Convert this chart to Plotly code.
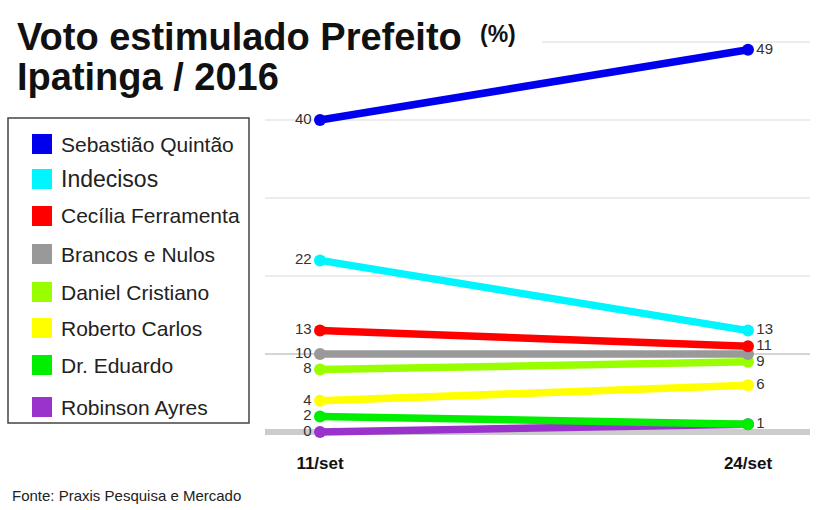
import plotly.graph_objects as go

# ---- data ----
dates = ["11/set", "24/set"]
names = ["Sebastião Quintão", "Indecisos", "Cecília Ferramenta", "Brancos e Nulos",
         "Daniel Cristiano", "Roberto Carlos", "Dr. Eduardo", "Robinson Ayres"]
colors = ["#0000ee", "#00f5ff", "#ff0000", "#999999",
          "#99ff00", "#ffff00", "#00ee00", "#9933cc"]
v_11set = [40, 22, 13, 10, 8, 4, 2, 0]
v_24set = [49, 13, 11, 10, 9, 6, 1, 1]
show_end_label = [True, True, True, False, True, True, True, False]
grid_vals = [10, 20, 30, 40, 50]

# ---- geometry helpers (pixels -> paper) ----
W, H = 819, 510
L, R, T, B = 265, 810, 30, 445
def px(x):
    return (x - L) / (R - L)
def py(y):
    return (B - y) / (B - T)

FONT = "Liberation Sans, Arial, sans-serif"
fig = go.Figure()

xs = [0, 1]
for i in reversed(range(len(names))):
    fig.add_trace(go.Scatter(
        x=xs, y=[v_11set[i], v_24set[i]], mode="lines+markers",
        name=names[i], line=dict(color=colors[i], width=7.5),
        marker=dict(color=colors[i], size=12), showlegend=False,
        cliponaxis=False, hoverinfo="skip"))
    fig.add_trace(go.Scatter(
        x=[xs[0]], y=[v_11set[i]], mode="text", text=[str(v_11set[i]) + "  "],
        textposition="middle left", textfont=dict(size=15, color="#333", family=FONT),
        showlegend=False, cliponaxis=False, hoverinfo="skip"))
    fig.add_trace(go.Scatter(
        x=[xs[1]], y=[v_24set[i]], mode="text",
        text=["  " + str(v_24set[i]) if show_end_label[i] else ""],
        textposition="middle right", textfont=dict(size=15, color="#333", family=FONT),
        showlegend=False, cliponaxis=False, hoverinfo="skip"))

shapes = []
for g in grid_vals:
    x0 = px(542) if g == 50 else 0
    col = "#aaaaaa" if g == 10 else "#d9d9d9"
    shapes.append(dict(type="line", xref="paper", yref="y", x0=x0, x1=1, y0=g, y1=g,
                       line=dict(color=col, width=1), layer="below"))
shapes.append(dict(type="line", xref="paper", yref="y", x0=0, x1=1, y0=0, y1=0,
                   line=dict(color="#cccccc", width=6), layer="below"))

annotations = []
# legend box
shapes.append(dict(type="rect", xref="paper", yref="paper",
                   x0=px(8), x1=px(249), y0=py(423), y1=py(118),
                   line=dict(color="#444", width=1.5), fillcolor="rgba(0,0,0,0)"))
leg_y = [144, 179, 216, 254, 292, 328, 365, 407]
leg_size = [21, 23, 21, 21, 21, 21, 21, 21]
for i, n in enumerate(names):
    shapes.append(dict(type="rect", xref="paper", yref="paper",
                       x0=px(32), x1=px(52), y0=py(leg_y[i] + 10), y1=py(leg_y[i] - 10),
                       line=dict(width=0), fillcolor=colors[i]))
    annotations.append(dict(xref="paper", yref="paper", x=px(59), y=py(leg_y[i]),
                            xanchor="left", yanchor="middle", showarrow=False, text=n,
                            font=dict(size=leg_size[i], color="#222", family=FONT)))

# title
annotations.append(dict(xref="paper", yref="paper", x=px(15), y=py(37), xanchor="left",
                        yanchor="middle", showarrow=False, text="<b>Voto estimulado Prefeito</b>",
                        font=dict(size=38, color="#111", family=FONT)))
annotations.append(dict(xref="paper", yref="paper", x=px(15), y=py(77), xanchor="left",
                        yanchor="middle", showarrow=False, text="<b>Ipatinga / 2016</b>",
                        font=dict(size=38, color="#111", family=FONT)))
annotations.append(dict(xref="paper", yref="paper", x=px(478), y=py(34), xanchor="left",
                        yanchor="middle", showarrow=False, text="<b>(%)</b>",
                        font=dict(size=23, color="#111", family=FONT)))
# source
annotations.append(dict(xref="paper", yref="paper", x=px(10), y=py(495), xanchor="left",
                        yanchor="middle", showarrow=False, text="Fonte: Praxis Pesquisa e Mercado",
                        font=dict(size=15, color="#222", family=FONT)))

fig.update_layout(
    width=W, height=H, margin=dict(l=L, r=W - R, t=T, b=H - B),
    paper_bgcolor="white", plot_bgcolor="white",
    xaxis=dict(range=[-55 / 428, 1 + 62 / 428], tickvals=xs,
               ticktext=["<b>" + d + "</b>" for d in dates],
               tickfont=dict(size=17, color="#111", family=FONT),
               showgrid=False, zeroline=False, showline=False, ticks="",
               ticklabelstandoff=6),
    yaxis=dict(range=[-(B - 432) / 7.8, (432 - T) / 7.8],
               showgrid=False, zeroline=False, showticklabels=False, showline=False),
    shapes=shapes, annotations=annotations, showlegend=False,
)
fig.write_html("out.html")
